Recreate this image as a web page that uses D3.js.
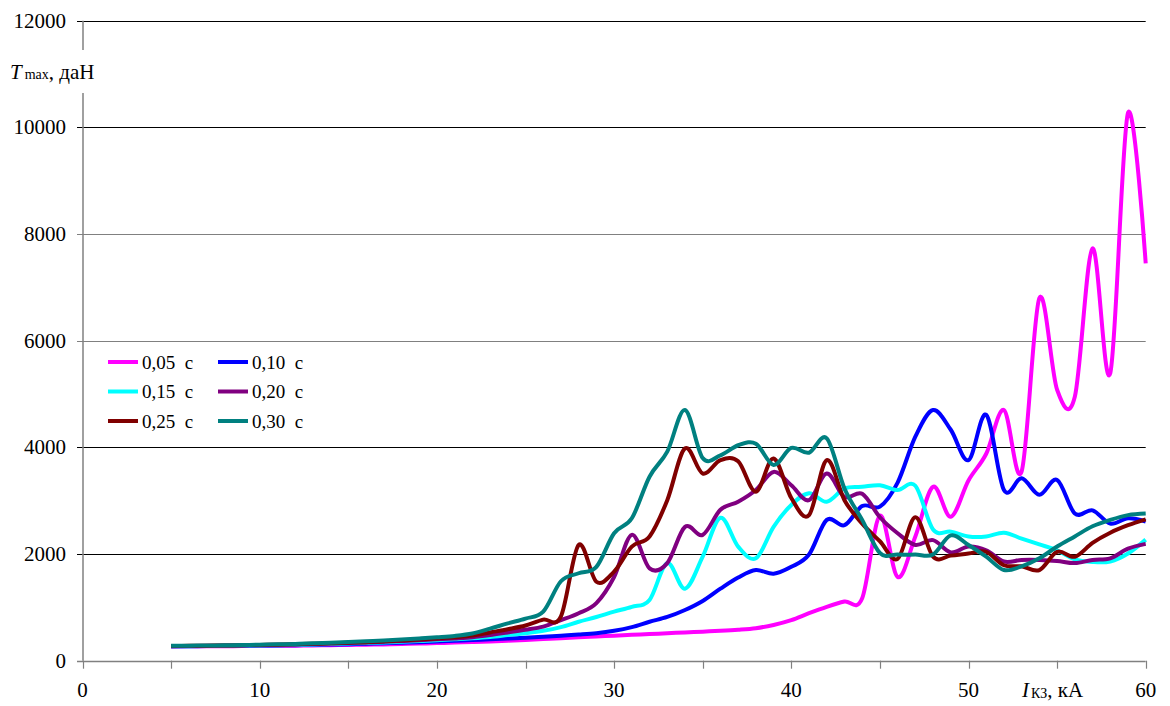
<!DOCTYPE html>
<html>
<head>
<meta charset="utf-8">
<script src="https://cdn.jsdelivr.net/npm/d3@7"></script>
<style>
  html, body { margin: 0; padding: 0; background: #fff; }
  svg { display: block; font-family: "Liberation Serif", "Times New Roman", serif; }
</style>
</head>
<body>
<svg id="chart" width="1170" height="706"></svg>
<script>
// Short-circuit current, kA
const currentKA = [5,6,7,8,9,10,11,12,13,14,15,16,17,18,19,20,21,22,23,24,25,26,27,28,29,30,31,32,33,34,35,36,37,38,39,40,41,42,43,44,45,46,47,48,49,50,51,52,53,54,55,56,57,58,59,60];

// Maximum tension T_max, daN, for each fault duration
const t005 = [268,269,270,272,274,276,279,282,286,290,295,300,306,313,321,330,340,350,362,375,390,405,420,440,455,470,485,500,515,530,545,560,580,610,670,760,890,1010,1110,1170,2720,1570,2330,3260,2700,3380,3880,4700,3550,6800,5080,4950,7730,5390,10270,7450];
const t010 = [270,272,274,277,280,283,287,292,297,303,310,318,327,337,348,360,373,387,400,415,430,450,470,490,515,560,630,730,820,950,1120,1350,1560,1700,1630,1760,1990,2640,2540,2900,2890,3340,4200,4700,4330,3760,4610,3200,3420,3110,3390,2760,2820,2570,2670,2610];
const t015 = [271,273,276,279,283,287,292,298,305,313,322,332,343,355,368,383,400,420,445,480,515,560,630,730,820,920,1010,1140,1830,1350,1950,2680,2140,1920,2510,2920,3140,2980,3230,3260,3290,3200,3280,2460,2420,2330,2330,2400,2290,2180,2070,1900,1850,1860,2010,2270];
const t020 = [273,276,279,283,287,292,298,305,313,322,332,343,355,368,383,400,418,440,480,530,580,640,760,890,1080,1570,2360,1730,1830,2510,2360,2830,2980,3200,3540,3290,3010,3510,3070,3130,2690,2390,2170,2260,2030,2140,2070,1860,1890,1890,1870,1830,1890,1920,2100,2190];
const t025 = [275,278,281,285,290,295,301,308,316,325,336,348,362,378,396,418,440,470,530,590,660,770,830,2170,1480,1670,2140,2330,3010,3980,3510,3760,3740,3170,3790,3050,2730,3760,3010,2570,2240,1910,2690,1950,1970,2010,2040,1790,1770,1700,2040,1950,2210,2400,2540,2650];
const t030 = [280,282,285,289,294,300,307,315,325,337,350,365,380,398,418,440,465,510,600,700,790,920,1490,1640,1760,2390,2670,3450,3920,4700,3800,3850,4040,4070,3670,3990,3900,4170,3230,2640,2020,1990,1990,1990,2350,2170,1950,1700,1770,1920,2140,2330,2520,2640,2730,2760];

const seriesNames  = ["0,05  с", "0,10  с", "0,15  с", "0,20  с", "0,25  с", "0,30  с"];
const seriesColors = ["#FF00FF", "#0000FF", "#00FFFF", "#800080", "#800000", "#008080"];
const seriesValues = [t005, t010, t015, t020, t025, t030];

const xTicks = [0,5,10,15,20,25,30,35,40,45,50,55,60];
const xTickLabels = ["0","","10","","20","","30","","40","","50","","60"];
const yTicks = [0,2000,4000,6000,8000,10000,12000];
const yTickLabels = ["0","2000","4000","6000","8000","10000","12000"];

const svg = d3.select("#chart");

const x = d3.scaleLinear().domain([0, 60]).range([82.5, 1145.7]);
const y = d3.scaleLinear().domain([0, 12000]).range([660.7, 20.7]);

const snap = v => Math.round(v) + 0.5;

// Horizontal grid lines (also serve as the left tick marks)
const gridColor = v => (v === 6000 || v === 8000) ? "#808080" : "#000";
svg.append("g").selectAll("line")
  .data(yTicks.filter(v => v > 0))
  .join("line")
  .attr("x1", 77).attr("x2", x(60))
  .attr("y1", d => snap(y(d))).attr("y2", d => snap(y(d)))
  .attr("stroke", gridColor)
  .attr("stroke-width", 1);

// Y axis tick labels
svg.append("g").selectAll("text")
  .data(yTicks)
  .join("text")
  .attr("x", 66)
  .attr("y", d => y(d) + 7)
  .attr("text-anchor", "end")
  .attr("font-size", 21)
  .text((d, i) => yTickLabels[i]);

// Y axis line
svg.append("line")
  .attr("x1", snap(x(0)) - 0.5).attr("x2", snap(x(0)) - 0.5)
  .attr("y1", y(12000)).attr("y2", y(0))
  .attr("stroke", "#808080").attr("stroke-width", 1.5);

// X axis line and ticks
svg.append("line")
  .attr("x1", 77).attr("x2", x(60))
  .attr("y1", snap(y(0))).attr("y2", snap(y(0)))
  .attr("stroke", "#808080").attr("stroke-width", 1.5);
svg.append("g").selectAll("line")
  .data(xTicks)
  .join("line")
  .attr("x1", d => snap(x(d))).attr("x2", d => snap(x(d)))
  .attr("y1", y(0)).attr("y2", y(0) + 8)
  .attr("stroke", "#808080").attr("stroke-width", 1.2);

// X axis tick labels
svg.append("g").selectAll("text")
  .data(xTicks)
  .join("text")
  .attr("x", d => x(d))
  .attr("y", 697)
  .attr("text-anchor", "middle")
  .attr("font-size", 21)
  .text((d, i) => xTickLabels[i]);

// Y axis title, set on a white box that breaks the axis line
svg.append("rect").attr("x", 70).attr("y", 50).attr("width", 30).attr("height", 43).attr("fill", "#fff");
const yTitle = svg.append("text").attr("x", 10).attr("y", 79).attr("font-size", 21);
yTitle.append("tspan").attr("font-style", "italic").text("T");
yTitle.append("tspan").attr("font-size", 14).attr("dx", 3).text("max");
yTitle.append("tspan").text(", даН");

// X axis title
const xTitle = svg.append("text").attr("x", 1022).attr("y", 697).attr("font-size", 21);
xTitle.append("tspan").attr("font-style", "italic").text("I");
xTitle.append("tspan").attr("font-size", 14).attr("dx", 2).attr("dy", 1).text("КЗ");
xTitle.append("tspan").attr("dy", -1).text(", кА");

// Series lines
const line = d3.line()
  .x((d, i) => x(currentKA[i]))
  .y(d => y(d))
  .curve(d3.curveCatmullRom.alpha(0));

svg.append("g").selectAll("path")
  .data(seriesValues)
  .join("path")
  .attr("d", d => line(d))
  .attr("fill", "none")
  .attr("stroke", (d, i) => seriesColors[i])
  .attr("stroke-width", 4)
  .attr("stroke-linejoin", "round");

// Legend, two columns by three rows
const legend = svg.append("g");
seriesNames.forEach((name, i) => {
  const col = i % 2, row = Math.floor(i / 2);
  const lx = 108 + col * 110, ly = 362 + row * 29.5;
  legend.append("line")
    .attr("x1", lx).attr("x2", lx + 30)
    .attr("y1", ly).attr("y2", ly)
    .attr("stroke", seriesColors[i]).attr("stroke-width", 4);
  legend.append("text")
    .attr("x", lx + 34).attr("y", ly + 6.5)
    .attr("font-size", 19)
    .style("white-space", "pre")
    .text(name);
});
</script>
</body>
</html>
